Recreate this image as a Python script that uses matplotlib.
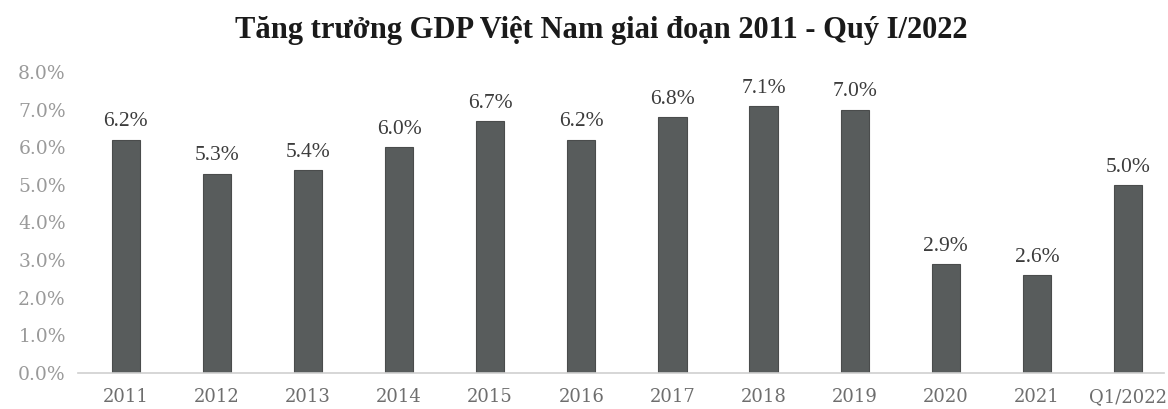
import matplotlib.pyplot as plt
from matplotlib.ticker import FuncFormatter

years = ["2011", "2012", "2013", "2014", "2015", "2016", "2017", "2018",
         "2019", "2020", "2021", "Q1/2022"]
gdp_growth = [6.2, 5.3, 5.4, 6.0, 6.7, 6.2, 6.8, 7.1, 7.0, 2.9, 2.6, 5.0]
value_labels = ["6.2%", "5.3%", "5.4%", "6.0%", "6.7%", "6.2%", "6.8%", "7.1%",
                "7.0%", "2.9%", "2.6%", "5.0%"]

plt.rcParams["font.family"] = ["Liberation Serif", "DejaVu Serif"]

fig = plt.figure(figsize=(11.68, 4.09), dpi=100)
ax = fig.add_axes([0.067, 0.088, 0.93, 0.736])

xs = range(len(years))
ax.bar(xs, gdp_growth, width=0.31, color="#585c5c", edgecolor="#4a4c4c",
       linewidth=0.8, zorder=2)

for x, v, lab in zip(xs, gdp_growth, value_labels):
    ax.text(x, v + 0.22, lab, ha="center", va="bottom", fontsize=15.5,
            color="#3c3c3c")

ax.set_ylim(0, 8)
ax.set_xlim(-0.52, 11.4)
ax.set_yticks(list(range(9)))
ax.yaxis.set_major_formatter(FuncFormatter(lambda v, p: f"{v:.1f}%"))
ax.set_xticks(list(xs))
ax.set_xticklabels(years)
ax.tick_params(axis="both", length=0)
ax.tick_params(axis="x", pad=11, colors="#6e6e6e")
ax.tick_params(axis="y", pad=9, colors="#9a9a9a")
for lab in ax.get_xticklabels():
    lab.set_fontfamily("DejaVu Serif")
    lab.set_fontsize(13)
for lab in ax.get_yticklabels():
    lab.set_fontfamily("DejaVu Serif")
    lab.set_fontsize(13.5)

for side in ["top", "right", "left"]:
    ax.spines[side].set_visible(False)
ax.spines["bottom"].set_color("#cfcfcf")
ax.spines["bottom"].set_linewidth(1.2)

fig.text(0.515, 0.925, "Tăng trưởng GDP Việt Nam giai đoạn 2011 - Quý I/2022",
         ha="center", va="center", fontsize=22, fontweight="bold", color="#1a1a1a")

fig.savefig("out.png", dpi=100)
